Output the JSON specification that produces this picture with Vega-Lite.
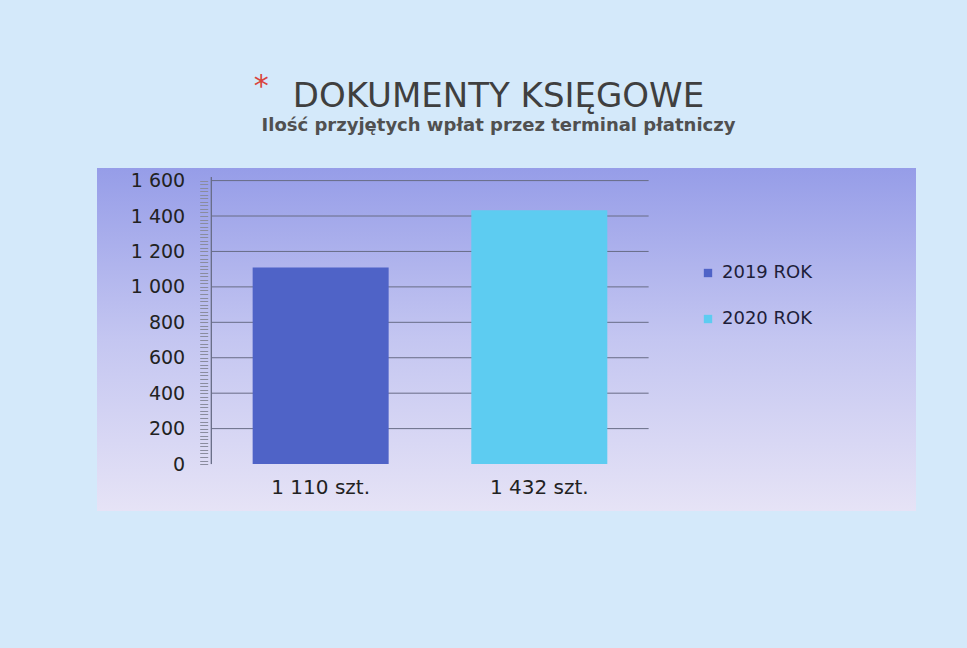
{
  "$schema": "https://vega.github.io/schema/vega-lite/v6.json",
  "width": 819,
  "height": 343,
  "autosize": {"type": "none"},
  "padding": {"left": 97, "top": 168, "right": 51, "bottom": 137},
  "background": "#d4e9fa",
  "view": {
    "stroke": null,
    "fill": {"gradient": "linear", "x1": 0, "y1": 0, "x2": 0, "y2": 1,
      "stops": [{"offset": 0, "color": "#969de8"}, {"offset": 0.5, "color": "#c4c6f1"}, {"offset": 1, "color": "#e6e3f6"}]}
  },
  "title": {
    "text": "DOKUMENTY KSIĘGOWE",
    "subtitle": "Ilość przyjętych wpłat przez terminal płatniczy",
    "anchor": "middle",
    "font": "DejaVu Sans",
    "fontSize": 34,
    "fontWeight": "normal",
    "color": "#3f3f3f",
    "subtitleFont": "DejaVu Sans",
    "subtitleFontSize": 18,
    "subtitleFontWeight": "bold",
    "subtitleColor": "#505050",
    "subtitlePadding": 3,
    "offset": 32,
    "dx": -8,
    "dy": 96
  },
  "datasets": {
    "bars": [
      {"label": "1 110 szt.", "series": "2019 ROK", "idx": 1, "value": 1110},
      {"label": "1 432 szt.", "series": "2020 ROK", "idx": 2, "value": 1432}
    ],
    "grid": [
      {"tick": 200}, {"tick": 400}, {"tick": 600}, {"tick": 800},
      {"tick": 1000}, {"tick": 1200}, {"tick": 1400}, {"tick": 1600}
    ]
  },
  "layer": [
    {
      "data": {"name": "grid"},
      "mark": {"type": "rule", "color": "#686c86", "strokeWidth": 1},
      "encoding": {
        "y": {"field": "tick", "type": "quantitative", "scale": {"domain": [-265, 1671], "nice": false, "zero": false}},
        "x": {"datum": 0.5, "type": "quantitative", "scale": {"domain": [0, 3.7], "nice": false, "zero": false}, "axis": null},
        "x2": {"datum": 2.5}
      }
    },
    {
      "data": {"name": "bars"},
      "mark": {"type": "bar", "size": 136},
      "encoding": {
        "x": {"field": "idx", "type": "quantitative", "axis": null},
        "y": {
          "field": "value", "type": "quantitative",
          "axis": {
            "values": [0,20,40,60,80,100,120,140,160,180,200,220,240,260,280,300,320,340,360,380,400,420,440,460,480,500,520,540,560,580,600,620,640,660,680,700,720,740,760,780,800,820,840,860,880,900,920,940,960,980,1000,1020,1040,1060,1080,1100,1120,1140,1160,1180,1200,1220,1240,1260,1280,1300,1320,1340,1360,1380,1400,1420,1440,1460,1480,1500,1520,1540,1560,1580,1600],
            "tickCount": 200,
            "labelExpr": "datum.value % 200 === 0 ? replace(format(datum.value, ',d'), ',', ' ') : ''",
            "labelOverlap": false,
            "labelFont": "DejaVu Sans",
            "labelFontSize": 19,
            "labelColor": "#222222",
            "labelPadding": 15,
            "tickSize": 8,
            "tickColor": "#8a8c9e",
            "domain": false,
            "grid": false,
            "offset": -110.7,
            "title": "*",
            "titleAngle": 0,
            "titleColor": "#d9443c",
            "titleFont": "DejaVu Sans",
            "titleFontSize": 30,
            "titleFontWeight": "normal",
            "titleAlign": "center",
            "titleBaseline": "alphabetic",
            "titleX": 53,
            "titleY": -73
          }
        },
        "color": {
          "field": "series", "type": "nominal",
          "scale": {"domain": ["2019 ROK", "2020 ROK"], "range": ["#4f63c7", "#5dccf1"]},
          "legend": {
            "orient": "none",
            "legendX": 602,
            "legendY": 96,
            "title": null,
            "symbolType": "square",
            "symbolSize": 70,
            "symbolStrokeWidth": 0,
            "labelFont": "DejaVu Sans",
            "labelFontSize": 18,
            "labelColor": "#1e1e3a",
            "labelOffset": 5,
            "rowPadding": 28
          }
        }
      }
    },
    {
      "data": {"name": "bars"},
      "mark": {"type": "rule", "color": "#686c86", "strokeWidth": 1},
      "encoding": {
        "x": {"datum": 0.5, "type": "quantitative"},
        "y": {"datum": 0, "type": "quantitative"},
        "y2": {"datum": 1620}
      }
    },
    {
      "data": {"name": "bars"},
      "mark": {"type": "text", "font": "DejaVu Sans", "fontSize": 20, "color": "#222222", "baseline": "alphabetic", "dy": 30},
      "encoding": {
        "x": {"field": "idx", "type": "quantitative"},
        "y": {"datum": 0, "type": "quantitative"},
        "text": {"field": "label"}
      }
    }
  ]
}
